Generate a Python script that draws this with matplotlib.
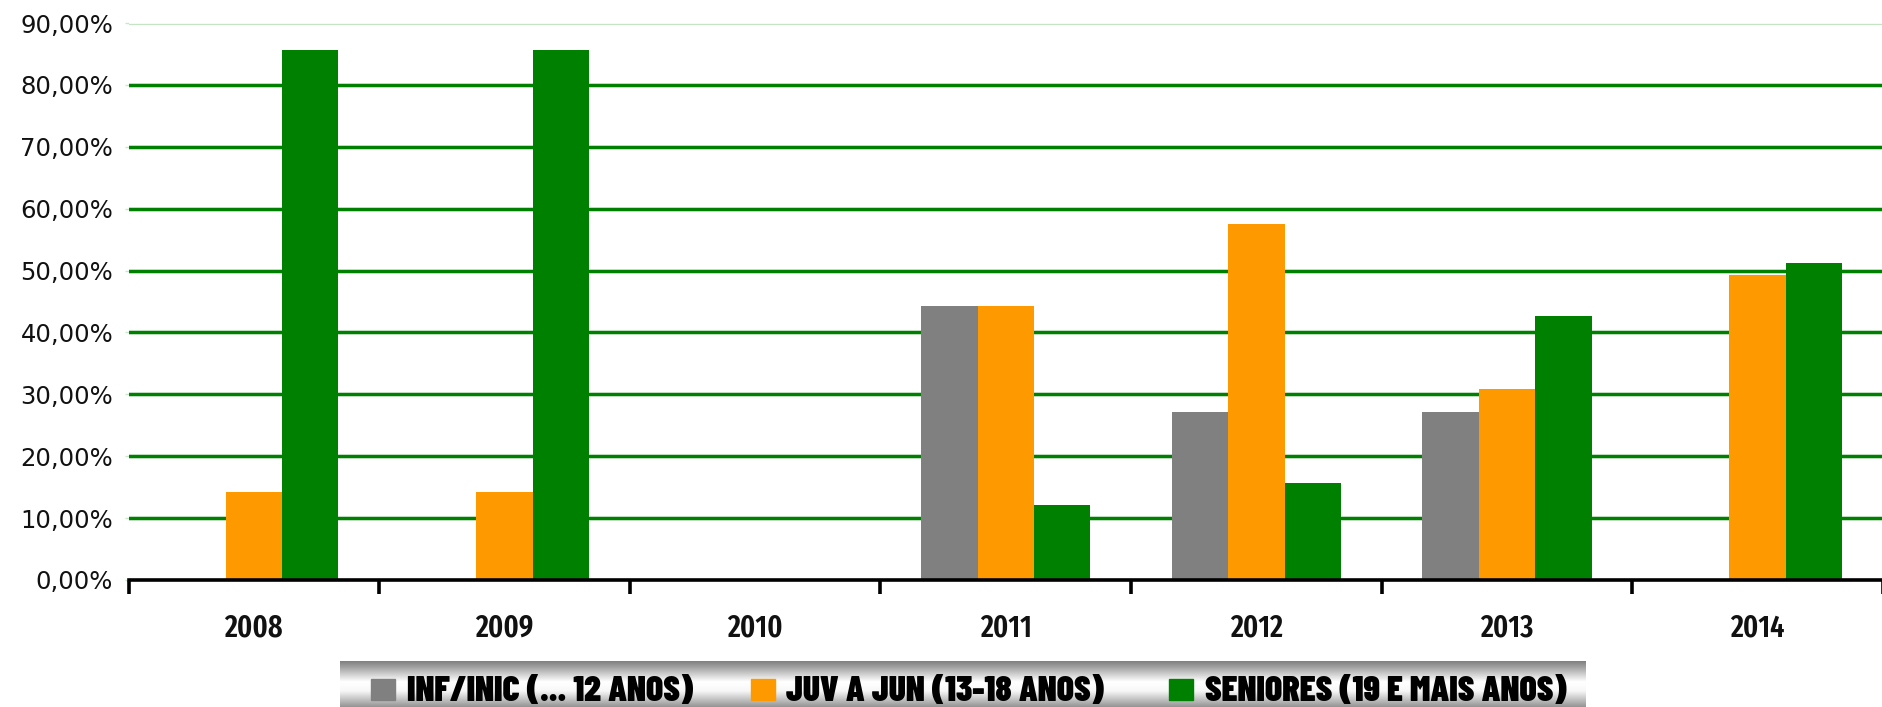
import matplotlib
matplotlib.use("Agg")
import matplotlib.pyplot as plt
import numpy as np
from matplotlib.patches import Rectangle

years = ["2008", "2009", "2010", "2011", "2012", "2013", "2014"]
series_names = ["INF/INIC (... 12 ANOS)", "JUV A JUN (13-18 ANOS)", "SENIORES (19 E MAIS ANOS)"]
inf_inic = [0, 0, 0, 44.2, 27.2, 27.1, 0]
juv_jun = [14.29, 14.29, 0, 44.2, 57.6, 30.8, 49.3]
seniores = [85.71, 85.71, 0, 12.1, 15.6, 42.6, 51.2]
colors = ["#808080", "#FF9900", "#008000"]
y_ticks = [0, 10, 20, 30, 40, 50, 60, 70, 80, 90]

XFONT = ["Fira Sans Extra Condensed", "DejaVu Sans"]
LFONT = ["Barlow Condensed", "DejaVu Sans"]

W, H = 1883, 707
fig = plt.figure(figsize=(W / 100, H / 100), dpi=100)
ax = fig.add_axes([128.5 / W, 1 - 580 / H, 1 - 128.5 / W, (580 - 23) / H])

x = np.arange(len(years))
bw = 0.225
for i, (vals, c) in enumerate(zip([inf_inic, juv_jun, seniores], colors)):
    ax.bar(x + (i - 1) * bw, vals, width=bw, color=c, zorder=3, linewidth=0)

ax.set_xlim(-0.5, len(years) - 0.5)
ax.set_ylim(0, 90)

# gridlines
for v in y_ticks[1:-1]:
    ax.axhline(v, color="#b8dcb8", lw=3.4, zorder=1)
    ax.axhline(v, color="#008000", lw=2.2, zorder=2)
ax.axhline(90, color="#c4e4c4", lw=3.0, zorder=1)
ax.axhline(90, color="#ffffff", lw=0.6, zorder=2)

for s in ["top", "right", "left"]:
    ax.spines[s].set_visible(False)
ax.spines["bottom"].set_linewidth(2.6)
ax.spines["bottom"].set_color("black")
ax.spines["bottom"].set_zorder(4)

ax.set_yticks(y_ticks)
ax.set_yticklabels([f"{v:.2f}".replace(".", ",") + "%" for v in y_ticks],
                   fontsize=17.5, family=["DejaVu Sans"], color="#111111")
ax.tick_params(axis="y", length=3, width=1, color="#c8e6c8", pad=8)

ax.set_xticks(x)
ax.set_xticklabels(years, fontsize=22, fontweight=600, family=XFONT, color="#111111")
ax.tick_params(axis="x", which="major", length=0, pad=24)
ax.set_xticks(np.arange(-0.5, len(years), 1.0), minor=True)
ax.tick_params(axis="x", which="minor", length=10, width=2.6, color="black", direction="out")

# legend with gradient background
lx0, lx1, ly0, ly1 = 340, 1586, 661, 707
lax = fig.add_axes([lx0 / W, 1 - ly1 / H, (lx1 - lx0) / W, (ly1 - ly0) / H])
t = np.linspace(0, 1, 200)
grad = np.interp(t, [0, 0.12, 0.45, 0.65, 1.0], [0.50, 0.62, 1.0, 0.97, 0.58])
img = np.repeat(grad[:, None], 10, axis=1)
lax.imshow(img, cmap="gray", vmin=0, vmax=1, aspect="auto", extent=[0, 1, 0, 1],
           origin="upper")
lax.set_xlim(0, 1)
lax.set_ylim(0, 1)
lax.axis("off")

Lw = lx1 - lx0
text_x = [407, 786, 1205]
sq_x = [371, 751, 1169]
for name, c, sx, tx in zip(series_names, colors, sq_x, text_x):
    lax.add_patch(Rectangle(((sx - lx0) / Lw, (ly1 - 700) / 46), 24 / Lw, 21 / 46,
                            color=c, transform=lax.transAxes, zorder=3))
    lax.text((tx - lx0) / Lw, (ly1 - 689) / 46, name, transform=lax.transAxes,
             fontsize=25.8, fontweight=900, va="center_baseline", ha="left",
             family=LFONT, color="black", zorder=3)

fig.savefig("out.png", dpi=100)
